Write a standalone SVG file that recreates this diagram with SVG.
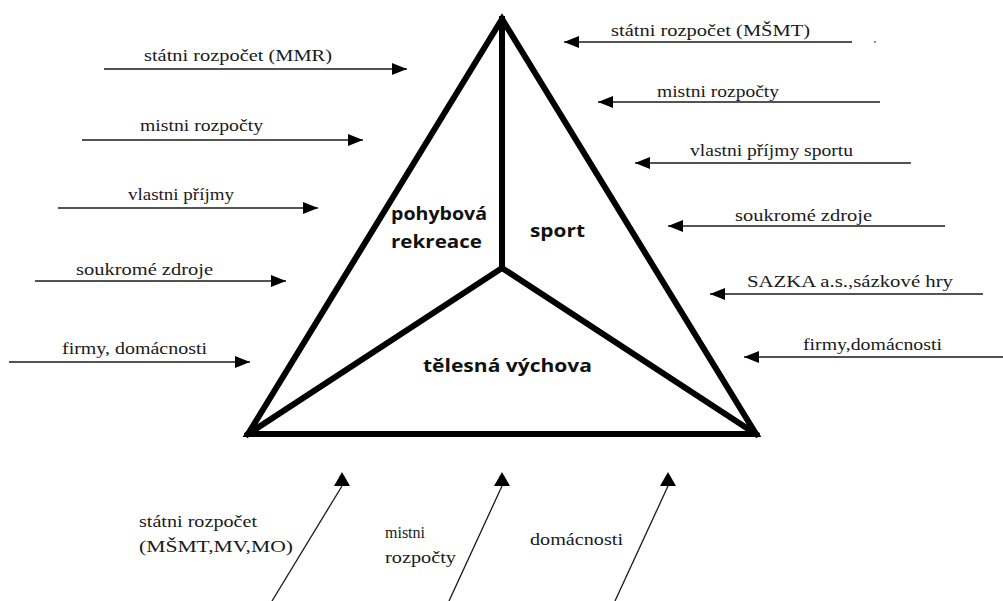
<svg xmlns="http://www.w3.org/2000/svg" width="1003" height="601" viewBox="0 0 1003 601">
  <style>
    .bg { fill: #ffffff; }
    .tri { fill: none; stroke: #000000; stroke-width: 6; stroke-linejoin: miter; stroke-linecap: square; }
    .area { font-family: "Open Sans", "Noto Sans", "DejaVu Sans", sans-serif; font-weight: bold; font-size: 18px; fill: #111111; }
    .lbl { font-family: "Liberation Serif", "Times New Roman", serif; font-size: 16px; fill: #1a1a1a; }
    .arr { fill: none; stroke: #1a1a1a; stroke-width: 1.3; }
    .h { marker-end: url(#head); }
    .u { marker-end: url(#headUp); }
  </style>
  <defs>
    <marker id="head" markerUnits="userSpaceOnUse" markerWidth="16" markerHeight="13" viewBox="0 0 16 13" refX="15" refY="6.5" orient="auto">
      <path d="M0,0.5 L15,6.5 L0,12.5 Z" fill="#000000"/>
    </marker>
    <marker id="headUp" markerUnits="userSpaceOnUse" markerWidth="17" markerHeight="16" viewBox="0 0 17 16" refX="8.5" refY="14" orient="0">
      <path d="M0.5,14 L8.5,0 L16.5,14 Z" fill="#000000"/>
    </marker>
  </defs>
  <rect class="bg" x="0" y="0" width="1003" height="601"/>

  <g id="triangle">
    <path class="tri" d="M502,19 L248,434 L756,434 Z"/>
    <path class="tri" d="M502,19 L502,268 M248,434 L502,268 L756,434"/>
  </g>
  <g id="node-pohybova-rekreace">
    <text class="area" x="391" y="220" textLength="96" lengthAdjust="spacingAndGlyphs">pohybová</text>
    <text class="area" x="391" y="248" textLength="91" lengthAdjust="spacingAndGlyphs">rekreace</text>
  </g>
  <g id="node-sport">
    <text class="area" x="530" y="237" textLength="55" lengthAdjust="spacingAndGlyphs">sport</text>
  </g>
  <g id="node-telesna-vychova">
    <text class="area" x="423" y="372" textLength="169" lengthAdjust="spacingAndGlyphs">tělesná výchova</text>
  </g>

  <g id="connectors">
    <line class="arr h" x1="104" y1="69" x2="407" y2="69"/>
    <line class="arr h" x1="82" y1="140" x2="363" y2="140"/>
    <line class="arr h" x1="58" y1="208" x2="318" y2="208"/>
    <line class="arr h" x1="35" y1="281" x2="286" y2="281"/>
    <line class="arr h" x1="9" y1="362" x2="250" y2="362"/>

    <line class="arr h" x1="852" y1="42" x2="564" y2="42"/>
    <line class="arr h" x1="880" y1="102" x2="598" y2="102"/>
    <line class="arr h" x1="911" y1="163" x2="635" y2="163"/>
    <line class="arr h" x1="945" y1="226" x2="668" y2="226"/>
    <line class="arr h" x1="983" y1="294" x2="710" y2="294"/>
    <line class="arr h" x1="1003" y1="357" x2="744" y2="357"/>

    <line class="arr u" x1="272" y1="601" x2="342" y2="486"/>
    <line class="arr u" x1="449" y1="601" x2="502" y2="486"/>
    <line class="arr u" x1="615" y1="601" x2="668" y2="486"/>
  </g>

  <g id="src-left-1"><text class="lbl" x="144" y="61" textLength="188" lengthAdjust="spacingAndGlyphs">státni rozpočet (MMR)</text></g>
  <g id="src-left-2"><text class="lbl" x="140" y="131" textLength="123" lengthAdjust="spacingAndGlyphs">mistni rozpočty</text></g>
  <g id="src-left-3"><text class="lbl" x="128" y="200" textLength="106" lengthAdjust="spacingAndGlyphs">vlastni příjmy</text></g>
  <g id="src-left-4"><text class="lbl" x="76" y="275" textLength="137" lengthAdjust="spacingAndGlyphs">soukromé zdroje</text></g>
  <g id="src-left-5"><text class="lbl" x="62" y="354" textLength="145" lengthAdjust="spacingAndGlyphs">firmy, domácnosti</text></g>

  <g id="src-right-1"><text class="lbl" x="611" y="36" textLength="199" lengthAdjust="spacingAndGlyphs">státni rozpočet (MŠMT)</text></g>
  <g id="src-right-2"><text class="lbl" x="657" y="97" textLength="122" lengthAdjust="spacingAndGlyphs">mistni rozpočty</text></g>
  <g id="src-right-3"><text class="lbl" x="690" y="156" textLength="163" lengthAdjust="spacingAndGlyphs">vlastni příjmy sportu</text></g>
  <g id="src-right-4"><text class="lbl" x="735" y="221" textLength="137" lengthAdjust="spacingAndGlyphs">soukromé zdroje</text></g>
  <g id="src-right-5"><text class="lbl" x="747" y="287" textLength="206" lengthAdjust="spacingAndGlyphs">SAZKA a.s.,sázkové hry</text></g>
  <g id="src-right-6"><text class="lbl" x="803" y="350" textLength="139" lengthAdjust="spacingAndGlyphs">firmy,domácnosti</text></g>

  <g id="src-bottom-1">
    <text class="lbl" x="139" y="527" textLength="118" lengthAdjust="spacingAndGlyphs">státni rozpočet</text>
    <text class="lbl" x="139" y="552" textLength="154" lengthAdjust="spacingAndGlyphs">(MŠMT,MV,MO)</text>
  </g>
  <g id="src-bottom-2">
    <text class="lbl" x="385" y="538">mistni</text>
    <text class="lbl" x="385" y="563" textLength="71" lengthAdjust="spacingAndGlyphs">rozpočty</text>
  </g>
  <g id="src-bottom-3">
    <text class="lbl" x="530" y="545" textLength="93" lengthAdjust="spacingAndGlyphs">domácnosti</text>
  </g>
  <circle cx="875" cy="42" r="0.9" fill="#555555"/>
</svg>
